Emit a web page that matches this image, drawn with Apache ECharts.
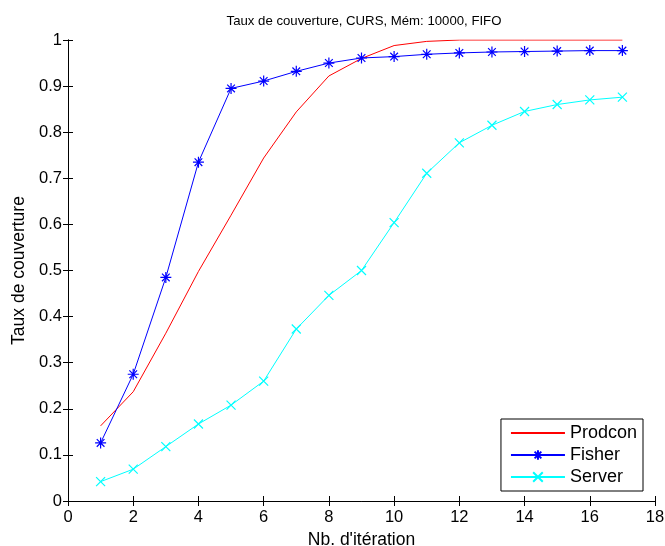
<!DOCTYPE html>
<html>
<head>
<meta charset="utf-8">
<title>Taux de couverture</title>
<style>
    html, body { margin: 0; padding: 0; background: #fff; }
    #chart { width: 665px; height: 546px; }
</style>
</head>
<body>
<div id="chart"></div>
<script src="https://cdn.jsdelivr.net/npm/echarts@6/dist/echarts.min.js"></script>
<script>
    // données
    let iterations = [1, 2, 3, 4, 5, 6, 7, 8, 9, 10, 11, 12, 13, 14, 15, 16, 17];
    let prodcon = [0.163, 0.237, 0.364, 0.498, 0.620, 0.744, 0.844, 0.922, 0.960, 0.988, 0.997, 1.0, 1.0, 1.0, 1.0, 1.0, 1.0];
    let fisher = [0.126, 0.275, 0.485, 0.735, 0.895, 0.911, 0.932, 0.950, 0.961, 0.964, 0.969, 0.972, 0.974, 0.975, 0.976, 0.977, 0.977];
    let server = [0.042, 0.069, 0.118, 0.167, 0.208, 0.260, 0.373, 0.446, 0.500, 0.604, 0.711, 0.777, 0.815, 0.845, 0.860, 0.870, 0.876];

    const font = 'Liberation Sans, Arial, sans-serif';
    const asterisk = 'path://M0,5L10,5M5,0L5,10M1.5,1.5L8.5,8.5M8.5,1.5L1.5,8.5';
    const cross = 'path://M0,0L10,10M10,0L0,10';

    function pairs(ys) {
        return iterations.map((x, i) => [x, ys[i]]);
    }

    let myChart = echarts.init(document.getElementById('chart'));

    let axisCommon = {
        axisLine: { show: true, lineStyle: { color: '#000', width: 1 } },
        axisTick: { show: true, inside: true, length: 5, lineStyle: { color: '#000' } },
        splitLine: { show: false }
    };

    let option = {
        animation: false,
        backgroundColor: '#fff',
        textStyle: { fontFamily: font },
        title: {
            text: 'Taux de couverture, CURS, Mém: 10000, FIFO',
            left: 359,
            top: 10,
            textAlign: 'center',
            textStyle: { fontFamily: font, fontSize: 13.2, fontWeight: 'normal', color: '#000' }
        },
        grid: { left: 68, right: 10, top: 40, bottom: 45, outerBoundsMode: 'none', containLabel: false },
        legend: {
            orient: 'vertical',
            right: 22,
            bottom: 55,
            padding: [5, 6, 5, 9],
            itemGap: 4,
            itemWidth: 54,
            itemHeight: 12,
            borderColor: '#000',
            borderWidth: 1,
            borderRadius: 0,
            backgroundColor: '#fff',
            textStyle: { fontFamily: font, fontSize: 18, color: '#000', lineHeight: 17 },
            data: [
                { name: 'Prodcon', itemStyle: { opacity: 0 } },
                'Fisher',
                'Server'
            ]
        },
        xAxis: [
            Object.assign({
                type: 'value', min: 0, max: 18, interval: 2,
                name: "Nb. d'itération", nameLocation: 'middle', nameGap: 28,
                nameTextStyle: { fontFamily: font, fontSize: 17.5, color: '#000' },
                axisLabel: { color: '#000', fontSize: 16.5, margin: 8, fontFamily: font }
            }, axisCommon),
            Object.assign({
                type: 'value', min: 0, max: 18, interval: 2, position: 'top',
                axisLabel: { show: false }
            }, axisCommon)
        ],
        yAxis: [
            Object.assign({
                type: 'value', min: 0, max: 1, interval: 0.1,
                name: 'Taux de couverture', nameLocation: 'middle', nameGap: 34,
                nameTextStyle: { fontFamily: font, fontSize: 17.5, color: '#000' },
                axisLabel: {
                    color: '#000', fontSize: 16.5, margin: 6, fontFamily: font,
                    formatter: v => String(Math.round(v * 10) / 10)
                }
            }, axisCommon),
            Object.assign({
                type: 'value', min: 0, max: 1, interval: 0.1, position: 'right',
                axisLabel: { show: false }
            }, axisCommon)
        ],
        series: [
            {
                name: 'Prodcon', type: 'line', data: pairs(prodcon),
                symbol: 'none', lineStyle: { color: '#ff0000', width: 1 },
                itemStyle: { color: '#ff0000' }
            },
            {
                name: 'Fisher', type: 'line', data: pairs(fisher),
                symbol: asterisk, symbolSize: 11, showAllSymbol: true,
                lineStyle: { color: '#0000ff', width: 1 },
                itemStyle: { color: 'none', borderColor: '#0000ff', borderWidth: 1.2 }
            },
            {
                name: 'Server', type: 'line', data: pairs(server),
                symbol: cross, symbolSize: 9, showAllSymbol: true,
                lineStyle: { color: '#00ffff', width: 1 },
                itemStyle: { color: 'none', borderColor: '#00ffff', borderWidth: 1.2 }
            }
        ]
    };

    myChart.setOption(option);
</script>
</body>
</html>
